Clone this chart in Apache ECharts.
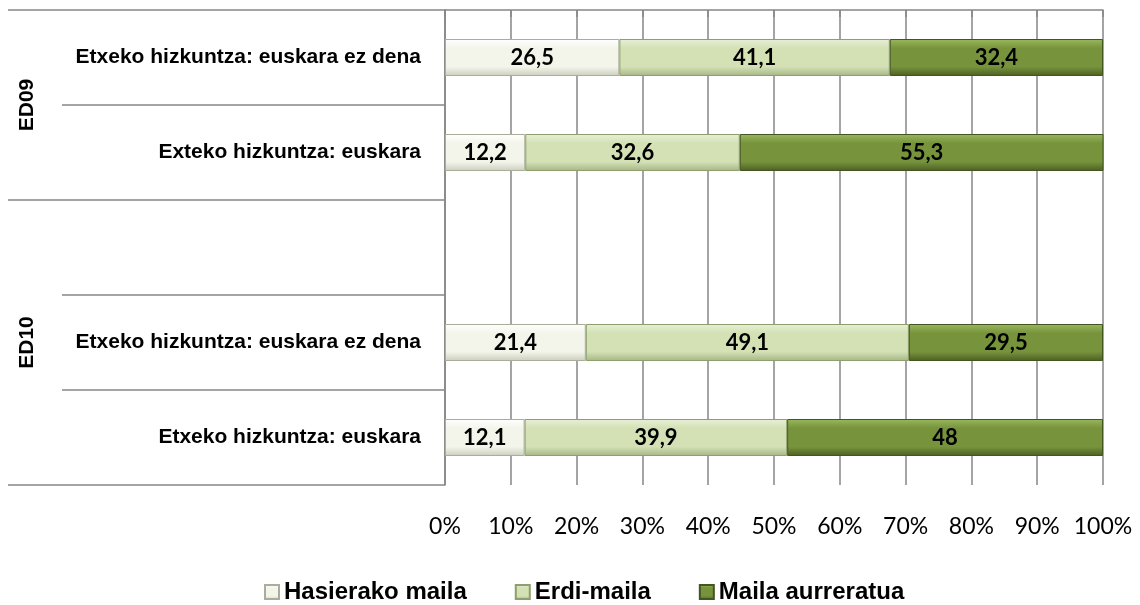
<!DOCTYPE html>
<html>
<head>
<meta charset="utf-8">
<script src="https://cdn.jsdelivr.net/npm/echarts@6/dist/echarts.min.js"></script>
<style>
  html, body { margin: 0; padding: 0; background: #fff; }
  #main { width: 1140px; height: 605px; }
</style>
</head>
<body>
<div id="main"></div>
<script>
    // rows top to bottom, the empty one separates the two groups
    var categories = [
        'Etxeko hizkuntza: euskara ez dena',
        'Exteko hizkuntza: euskara',
        '',
        'Etxeko hizkuntza: euskara ez dena',
        'Etxeko hizkuntza: euskara'
    ];
    var groupNames = ['ED09', 'ED10'];
    var groupSizes = [2, 3];
    var seriesNames = ['Hasierako maila', 'Erdi-maila', 'Maila aurreratua'];
    var hasierako = [26.5, 12.2, null, 21.4, 12.1];
    var erdi = [41.1, 32.6, null, 49.1, 39.9];
    var aurreratua = [32.4, 55.3, null, 29.5, 48];

    var grad = function(top, mid, bot) {
        return new echarts.graphic.LinearGradient(0, 0, 0, 1, [
            { offset: 0, color: top },
            { offset: 0.25, color: mid },
            { offset: 0.75, color: mid },
            { offset: 1, color: bot }
        ]);
    };
    var styles = [
        { color: grad('#ffffff', '#f3f5ea', '#cbcfbd'), border: '#a9ad9a' },
        { color: grad('#e8f0d6', '#d3e1b5', '#a6b686'), border: '#8e9e6c' },
        { color: grad('#9ab85e', '#77933c', '#4b5f22'), border: '#435520' }
    ];

    // boundaries and centres of the groups, in row units
    var groupBounds = [0], groupCentres = [];
    for (var g = 0, acc = 0; g < groupSizes.length; g++) {
        groupCentres.push(acc + groupSizes[g] / 2);
        acc += groupSizes[g];
        groupBounds.push(acc);
    }

    var fmt = function(v) {
        return String(v).replace('.', ',');
    };

    var makeSeries = function(i, data) {
        return {
            name: seriesNames[i],
            type: 'bar',
            stack: 'total',
            barWidth: 37,
            data: data,
            itemStyle: {
                color: styles[i].color,
                borderColor: styles[i].border,
                borderWidth: 1
            },
            label: {
                show: true,
                position: 'inside',
                color: '#000',
                fontFamily: 'Lato',
                fontWeight: 'bold',
                fontSize: 22,
                formatter: function(p) { return fmt(p.value); }
            }
        };
    };

    var option = {
        animation: false,
        grid: { left: 445, right: 37, top: 10, bottom: 120 },
        legend: {
            top: 575,
            left: 259,
            itemWidth: 14,
            itemHeight: 14,
            itemGap: 48,
            icon: 'rect',
            textStyle: { fontFamily: 'Liberation Sans', fontWeight: 'bold', fontSize: 24, color: '#000' },
            data: seriesNames
        },
        xAxis: {
            type: 'value',
            min: 0,
            max: 100,
            interval: 10,
            axisLine: { show: true, lineStyle: { color: '#868686', width: 1.5 } },
            axisTick: { show: true, length: 7, lineStyle: { color: '#868686', width: 1.5 } },
            splitLine: { show: true, lineStyle: { color: '#868686', width: 1.5 } },
            axisLabel: {
                margin: 30,
                color: '#000',
                fontFamily: 'Lato',
                fontSize: 23,
                formatter: '{value}%'
            }
        },
        yAxis: [{
            type: 'category',
            inverse: true,
            data: categories,
            axisLine: { show: true, lineStyle: { color: '#868686', width: 1.5 } },
            axisTick: { show: true, length: 383, interval: 0, lineStyle: { color: '#868686', width: 1.5 } },
            splitLine: { show: false },
            axisLabel: {
                margin: 24,
                interval: 0,
                color: '#000',
                fontFamily: 'Liberation Sans',
                fontWeight: 'bold',
                fontSize: 21
            }
        }, {
            type: 'value',
            position: 'left',
            inverse: true,
            min: 0,
            max: categories.length,
            axisLine: { show: false },
            splitLine: { show: false },
            axisTick: {
                show: true,
                length: 437,
                customValues: groupBounds,
                lineStyle: { color: '#868686', width: 1.5 }
            },
            axisLabel: {
                show: true,
                customValues: groupCentres,
                rotate: 90,
                margin: 407,
                color: '#000',
                fontFamily: 'Liberation Sans',
                fontWeight: 'bold',
                fontSize: 21,
                formatter: function(v) {
                    var k = groupCentres.indexOf(v);
                    return k > -1 ? groupNames[k] : '';
                }
            }
        }],
        series: [
            makeSeries(0, hasierako),
            makeSeries(1, erdi),
            makeSeries(2, aurreratua)
        ]
    };

    var myChart = echarts.init(document.getElementById('main'));
    myChart.setOption(option);
</script>
</body>
</html>
